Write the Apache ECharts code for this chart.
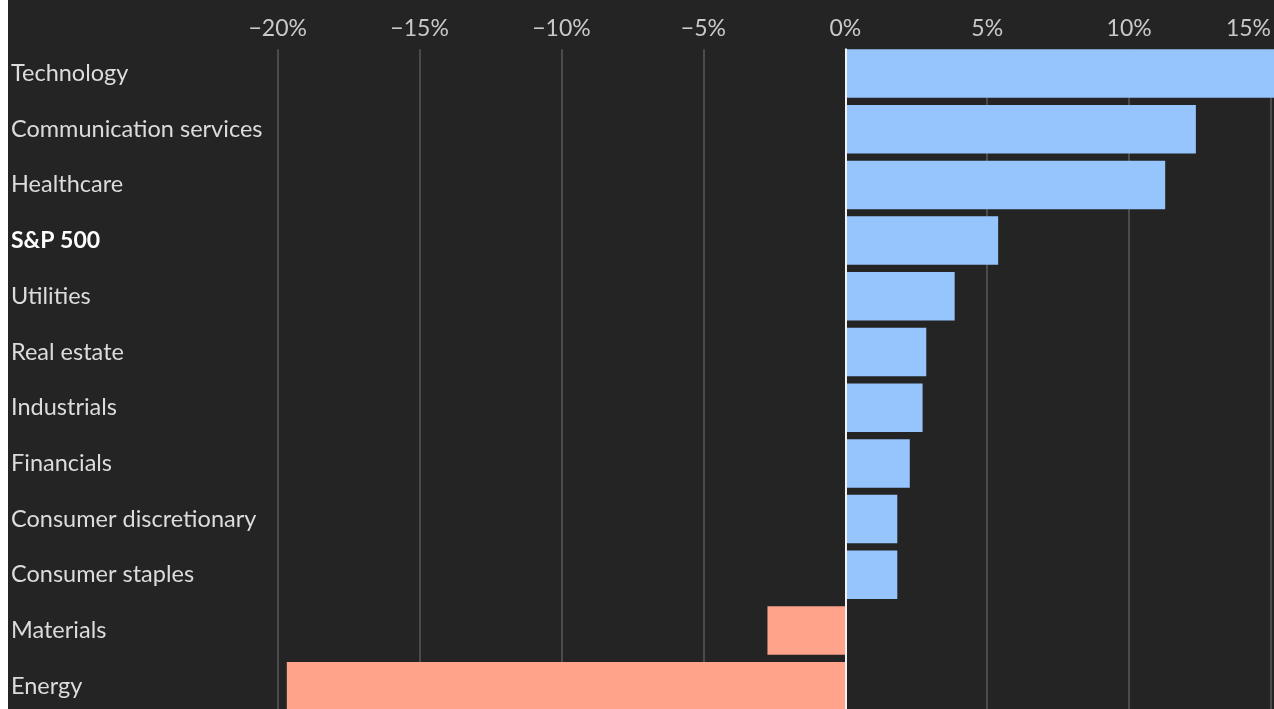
<!DOCTYPE html>
<html>
<head>
<meta charset="utf-8">
<script src="https://cdn.jsdelivr.net/npm/echarts@6/dist/echarts.min.js"></script>
<style>
  html, body { margin: 0; padding: 0; background: #ffffff; overflow: hidden; width: 1274px; height: 709px; }
  #chart { position: absolute; left: 8px; top: 0; width: 1266px; height: 720px; background: #242424; }
</style>
</head>
<body>
<div id="chart"></div>
<script>
// Sector performance, % change year to date
const categories = [
  'Technology', 'Communication services', 'Healthcare', 'S&P 500', 'Utilities',
  'Real estate', 'Industrials', 'Financials', 'Consumer discretionary',
  'Consumer staples', 'Materials', 'Energy'
];
const changes = [15.8, 12.32, 11.24, 5.36, 3.83, 2.83, 2.70, 2.25, 1.81, 1.81, -2.76, -19.68];
const axisMin = -20;
const axisMax = 15;
const tickStep = 5;
const highlighted = 'S&P 500';

const FONT = 'Lato, "Noto Sans", sans-serif';
const POS = '#96c4fd';
const NEG = '#ffa38a';

const gridLeft = 269.7;
const gridRight = 2;

const chart = echarts.init(document.getElementById('chart'), null, { renderer: 'canvas' });

chart.setOption({
  backgroundColor: '#242424',
  animation: false,
  grid: [
    // bars
    { left: gridLeft, right: gridRight, top: 45.65, bottom: 5.95, containLabel: false },
    // gridlines, tick labels and zero line
    { left: gridLeft, right: gridRight, top: 49.3, bottom: 0, containLabel: false }
  ],
  xAxis: [
    {
      gridIndex: 0, type: 'value', min: axisMin, max: axisMax, interval: tickStep,
      show: false
    },
    {
      gridIndex: 1, type: 'value', min: axisMin, max: axisMax, interval: tickStep,
      position: 'top',
      axisLine: { show: false },
      axisTick: { show: false },
      splitLine: { show: true, lineStyle: { color: '#595959', width: 1.5 } },
      axisLabel: {
        show: true,
        margin: 21,
        color: '#c9c9c9',
        fontFamily: FONT,
        fontSize: 23,
        verticalAlign: 'middle',
        alignMaxLabel: 'right',
        formatter: v => (v < 0 ? '\u2212' + Math.abs(v) : v) + '%'
      }
    }
  ],
  yAxis: [
    {
      gridIndex: 0, type: 'category', data: categories, inverse: true,
      axisLine: { show: false },
      axisTick: { show: false },
      splitLine: { show: false },
      axisLabel: {
        show: true,
        margin: gridLeft - 3,
        align: 'left',
        verticalAlign: 'middle',
        color: '#dcdcdc',
        fontFamily: FONT,
        fontSize: 23.5,
        formatter: v => v === highlighted ? '{b|' + v + '}' : v,
        rich: {
          b: { color: '#ffffff', fontWeight: 'bold', fontFamily: FONT, fontSize: 23 }
        }
      }
    },
    {
      gridIndex: 1, type: 'value', min: 0, max: 1,
      z: 5,
      axisLine: { show: true, onZero: true, lineStyle: { color: '#f2f2f2', width: 2 } },
      axisTick: { show: false },
      axisLabel: { show: false },
      splitLine: { show: false }
    }
  ],
  series: [
    {
      type: 'bar',
      xAxisIndex: 0,
      yAxisIndex: 0,
      data: changes,
      barCategoryGap: '13%',
      clip: false,
      itemStyle: {
        color: p => (p.value < 0 ? NEG : POS)
      },
      emphasis: { disabled: true }
    }
  ]
});
</script>
</body>
</html>
